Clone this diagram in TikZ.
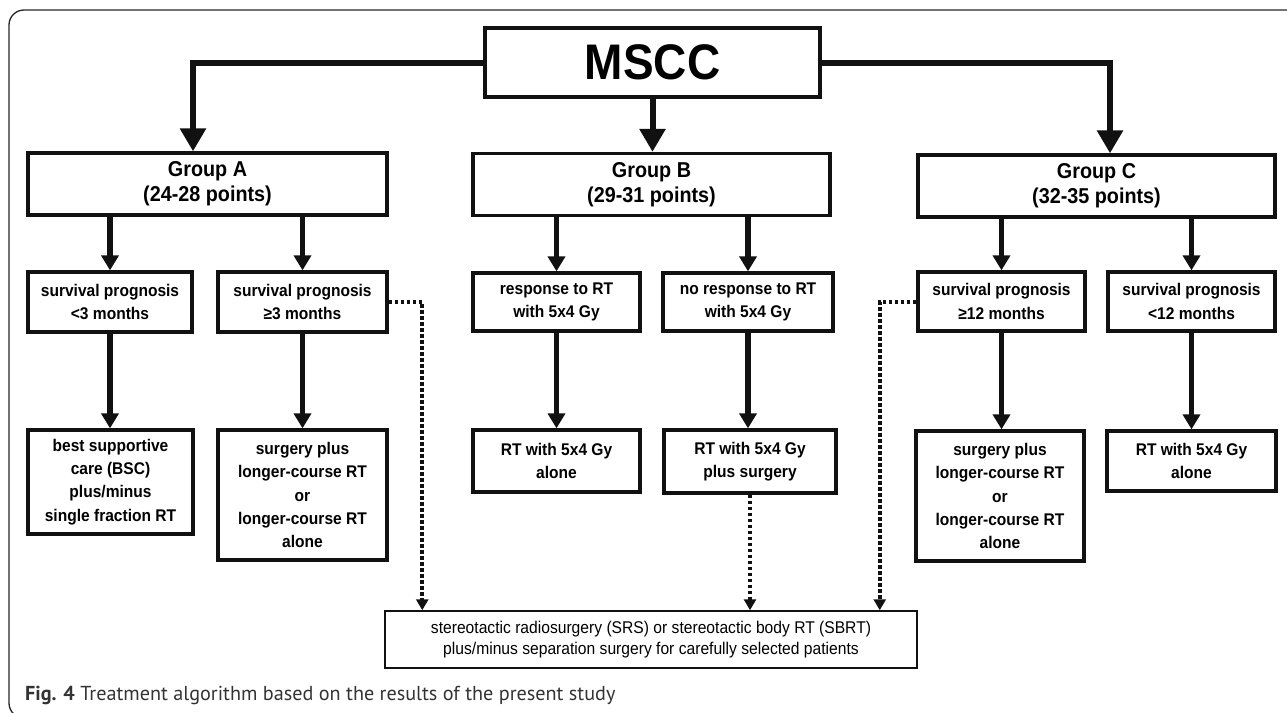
\documentclass[tikz,border=0pt]{standalone}
\usepackage{fontspec}
\setmainfont{Liberation Sans}
\newfontfamily\cond[FakeStretch=0.92]{Liberation Sans}
\newfontfamily\capfont{PT Sans}
\usetikzlibrary{arrows.meta,calc}
\definecolor{ink}{HTML}{111111}
\begin{document}
\begin{tikzpicture}[x=1pt,y=-1pt,
  box/.style={draw=ink, line width=3.3pt, fill=white, inner sep=0pt, align=center,
    font=\cond\bfseries\fontsize{16.9}{23.3}\selectfont},
  grp/.style={box, font=\cond\bfseries\fontsize{21.5}{25}\selectfont},
  big/.style={draw=ink, -{Triangle[width=25pt,length=23pt]}, line width=6pt},
  arr/.style={draw=ink, -{Triangle[width=17pt,length=15pt]}, line width=5.5pt},
  dots/.style={draw=ink, -{Triangle[width=12pt,length=11pt]}, line width=4pt, dash pattern=on 3.6pt off 2.4pt}
]
\useasboundingbox (0,0) rectangle (1287,712);
\clip (0,0) rectangle (1287,712);
\draw[line width=1.3pt, black!85, rounded corners=15pt] (9,10) rectangle (1320,718);

\node[box, minimum width=335pt, minimum height=69pt, font=\cond\bfseries\fontsize{50}{52}\selectfont] (M) at (652.5,62.5) {MSCC};

\node[grp, minimum width=359pt, minimum height=62pt] (A) at (207.5,184) {Group A\\(24-28 points)};
\node[grp, minimum width=357pt, minimum height=62pt] (B) at (651.5,184.5) {Group B\\(29-31 points)};
\node[grp, minimum width=357pt, minimum height=62pt] (C) at (1096.5,186) {Group C\\(32-35 points)};

\node[box, minimum width=164pt, minimum height=60pt] (A1) at (110,302) {survival prognosis\\<3 months};
\node[box, minimum width=169pt, minimum height=60pt] (A2) at (302.5,302) {survival prognosis\\≥3 months};
\node[box, minimum width=167pt, minimum height=58pt] (B1) at (556.5,302) {response to RT\\with 5x4 Gy};
\node[box, minimum width=170pt, minimum height=58pt] (B2) at (748,302) {no response to RT\\with 5x4 Gy};
\node[box, minimum width=167pt, minimum height=59pt] (C1) at (1001.5,301.5) {survival prognosis\\≥12 months};
\node[box, minimum width=167pt, minimum height=59pt] (C2) at (1191.5,301.5) {survival prognosis\\<12 months};

\node[box, minimum width=165pt, minimum height=104pt] (A3) at (110.5,482) {best supportive\\care (BSC)\\plus/minus\\single fraction RT};
\node[box, minimum width=169pt, minimum height=130pt] (A4) at (302.5,495) {surgery plus\\longer-course RT\\or\\longer-course RT\\alone};
\node[box, minimum width=167pt, minimum height=62pt] (B3) at (556.5,461) {RT with 5x4 Gy\\alone};
\node[box, minimum width=172pt, minimum height=63pt] (B4) at (750,461.5) {RT with 5x4 Gy\\plus surgery};
\node[box, minimum width=168pt, minimum height=130pt] (C3) at (1000,496) {surgery plus\\longer-course RT\\or\\longer-course RT\\alone};
\node[box, minimum width=169pt, minimum height=60pt] (C4) at (1191.5,461) {RT with 5x4 Gy\\alone};

\node[draw=ink, line width=1.5pt, fill=white, minimum width=532pt, minimum height=57pt, inner sep=0pt, align=center,
  font=\cond\fontsize{17}{21.5}\selectfont] (D) at (651,639.5)
  {stereotactic radiosurgery (SRS) or stereotactic body RT (SBRT)\\plus/minus separation surgery for carefully selected patients};

\node[anchor=base west, inner sep=0pt, text=black!80, font=\capfont\fontsize{20.2}{24}\selectfont] (cap) at (25,700)
  {\textbf{Fig. 4} Treatment algorithm based on the results of the present study};

% MSCC connectors
\draw[big] (M.west) -| ([xshift=-14.5pt]A.north);
\draw[big] (M.east) -| ([xshift=13.5pt]C.north);
\draw[big] (M.south) -- (M.south |- B.north);

% group to row 1
\draw[arr] (A1.north |- A.south) -- (A1.north);
\draw[arr] (A2.north |- A.south) -- (A2.north);
\draw[arr] (B1.north |- B.south) -- (B1.north);
\draw[arr] (B2.north |- B.south) -- (B2.north);
\draw[arr] (C1.north |- C.south) -- (C1.north);
\draw[arr] (C2.north |- C.south) -- (C2.north);

% row 1 to row 2
\draw[arr] (A1.south) -- (A1.south |- A3.north);
\draw[arr] (A2.south) -- (A2.south |- A4.north);
\draw[arr] (B1.south) -- (B1.south |- B3.north);
\draw[arr] (B2.south) -- (B2.south |- B4.north);
\draw[arr] (C1.south) -- (C1.south |- C3.north);
\draw[arr] (C2.south) -- (C2.south |- C4.north);

% dotted connectors
\draw[dots] (A2.east) -| ($(D.north west)+(38,0)$);
\draw[dots] (B4.south) -- (B4.south |- D.north);
\draw[dots] (C1.west) -| ($(D.north east)+(-38,0)$);
\end{tikzpicture}
\end{document}
